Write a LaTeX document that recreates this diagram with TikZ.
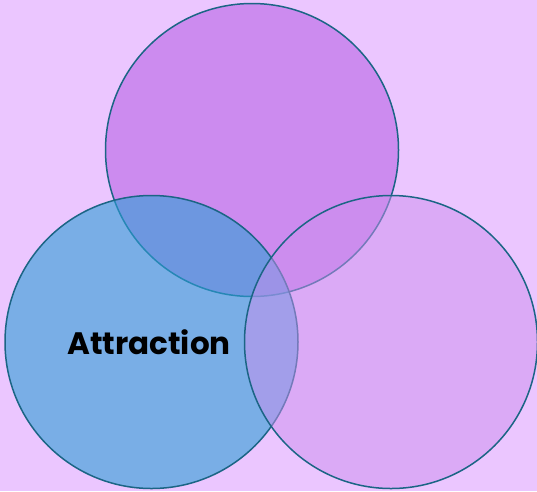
\documentclass[tikz,border=0pt]{standalone}
\usepackage{fontspec}
\setmainfont{Poppins}
\usetikzlibrary{positioning}
\definecolor{vnback}{HTML}{EBC6FF}
\definecolor{vntop}{HTML}{CC8BEF}
\definecolor{vnblue}{HTML}{2E9FD6}
\definecolor{vnlav}{HTML}{CC90EE}
\definecolor{vnline}{HTML}{1B6585}
\tikzset{
  setc/.style  = {circle, draw=vnline, line width=1.5pt,
                  minimum size=293pt, inner sep=0pt},
  lbl/.style   = {font=\fontsize{31}{37}\selectfont\bfseries, text=black},
}
\begin{document}
\begin{tikzpicture}[x=1pt,y=-1pt]
  \fill[vnback] (0,0) rectangle (537,491);
  \useasboundingbox (0,0) rectangle (537,491);
  \node[setc,fill=vntop] (top) at (252,150) {};
  \node[setc,fill=vnblue,fill opacity=0.6] (left) at (151.5,342) {};
  \node[setc,fill=vnlav,fill opacity=0.5] (right) at (391,342) {};
  \node[lbl] (attr) at (149,342) {Attraction};
\end{tikzpicture}
\end{document}
